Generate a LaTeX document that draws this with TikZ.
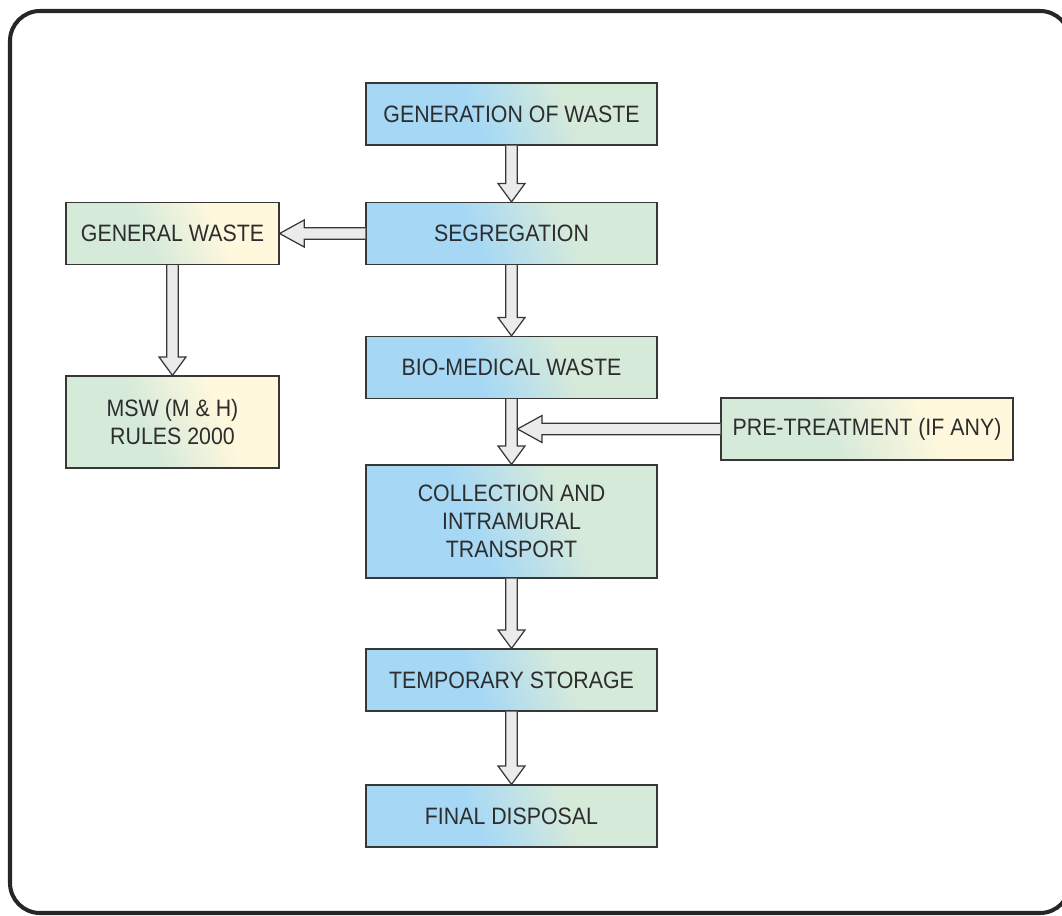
\documentclass[tikz,border=0pt]{standalone}
\usepackage{fontspec}
\setmainfont{Liberation Sans}[FakeStretch=0.9]
\usetikzlibrary{calc}
\definecolor{cblue}{RGB}{166,216,245}
\definecolor{cgreen}{RGB}{214,234,218}
\definecolor{cyellow}{RGB}{255,248,221}
\definecolor{boxline}{RGB}{55,55,55}
\definecolor{textgray}{RGB}{45,45,45}
\definecolor{arrowfill}{RGB}{235,235,235}
\pgfdeclarehorizontalshading{bluegreen}{100bp}{color(0bp)=(cblue); color(42bp)=(cblue); color(62bp)=(cgreen); color(100bp)=(cgreen)}
\pgfdeclarehorizontalshading{greenyellow}{100bp}{color(0bp)=(cgreen); color(42bp)=(cgreen); color(64bp)=(cyellow); color(100bp)=(cyellow)}
\tikzset{
  box/.style={draw=boxline, line width=0.7pt, minimum width=5.82cm, minimum height=1.24cm,
    align=center, text=textgray, font=\fontsize{13.5}{16}\selectfont, inner sep=2pt},
  mainbox/.style={box, shading=bluegreen, shading angle=25},
  sidebox/.style={box, shading=greenyellow, shading angle=25},
  blockarrow/.style={draw=boxline, fill=arrowfill, line width=0.7pt},
  downarrow/.style={blockarrow, to path={let \p1=(\tikztostart), \p2=(\tikztotarget) in
    (\x1-3.3pt,\y1) -- (\x1-3.3pt,\y2+10.5pt) -- (\x1-7.7pt,\y2+10.5pt) -- (\x1,\y2)
    -- (\x1+7.7pt,\y2+10.5pt) -- (\x1+3.3pt,\y2+10.5pt) -- (\x1+3.3pt,\y1)}},
  leftarrow/.style={blockarrow, to path={let \p1=(\tikztostart), \p2=(\tikztotarget) in
    (\x1,\y1-3.3pt) -- (\x2+14pt,\y1-3.3pt) -- (\x2+14pt,\y1-7.7pt) -- (\x2,\y1)
    -- (\x2+14pt,\y1+7.7pt) -- (\x2+14pt,\y1+3.3pt) -- (\x1,\y1+3.3pt)}}
}
\begin{document}
\begin{tikzpicture}[x=0.02cm,y=-0.02cm]
  \useasboundingbox (0,0) rectangle (1062,916);
  \clip (0,0) rectangle (1062,916);
  % outer frame
  \draw[line width=2.3pt, draw=black!85, rounded corners=0.6cm] (10,11) rectangle (1070,913);
  % main column
  \node[mainbox] (gen) at (511.5,114) {GENERATION OF WASTE};
  \node[mainbox] (seg) at (511.5,233.5) {SEGREGATION};
  \node[mainbox] (bio) at (511.5,367.5) {BIO-MEDICAL WASTE};
  \node[mainbox, minimum height=2.26cm] (col) at (511.5,521.5) {COLLECTION AND\\INTRAMURAL\\TRANSPORT};
  \node[mainbox] (tmp) at (511.5,680) {TEMPORARY STORAGE};
  \node[mainbox] (fin) at (511.5,816) {FINAL DISPOSAL};
  % side boxes
  \node[sidebox, minimum width=4.26cm] (gw) at (172.5,233.5) {GENERAL WASTE};
  \node[sidebox, minimum width=4.26cm, minimum height=1.84cm] (msw) at (172.5,422) {MSW (M \& H)\\RULES 2000};
  \node[sidebox, minimum width=5.84cm] (pre) at (867,429) {PRE-TREATMENT (IF ANY)};
  \coordinate (join) at (517.5,429);
  % arrows
  \draw[downarrow] (gen.south) to (seg.north);
  \draw[downarrow] (seg.south) to (bio.north);
  \draw[downarrow] (bio.south) to (col.north);
  \draw[downarrow] (col.south) to (tmp.north);
  \draw[downarrow] (tmp.south) to (fin.north);
  \draw[downarrow] (gw.south) to (msw.north);
  \draw[leftarrow] (seg.west) to (gw.east);
  \draw[leftarrow] (pre.west) to (join);
\end{tikzpicture}
\end{document}
